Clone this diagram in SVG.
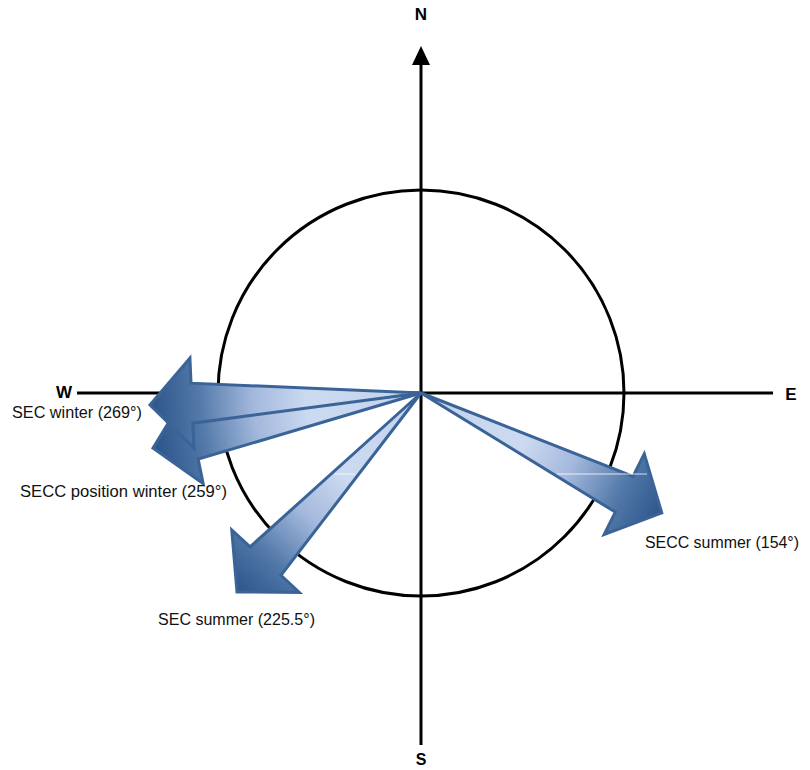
<svg xmlns="http://www.w3.org/2000/svg" width="810" height="770" viewBox="0 0 810 770">
<style>
.ax{stroke:#000;stroke-width:3;fill:none}
.arrow{stroke:#3a6498;stroke-width:3;stroke-linejoin:miter;fill:url(#g)}
.lbl{font-family:"Liberation Sans",Arial,sans-serif;font-size:16px;fill:#111}
.dir{font-family:"Liberation Sans",Arial,sans-serif;font-size:17px;font-weight:bold;fill:#000;text-anchor:middle}
.art{stroke:#ffffff;stroke-width:1;opacity:0.8}
</style>
<defs>
<linearGradient id="g" gradientUnits="userSpaceOnUse" x1="0" y1="0" x2="271" y2="0">
<stop offset="0" stop-color="#c3d3ec"/>
<stop offset="0.42" stop-color="#ccdaf1"/>
<stop offset="0.62" stop-color="#a3b8dc"/>
<stop offset="0.82" stop-color="#5279a9"/>
<stop offset="1" stop-color="#2c548a"/>
</linearGradient>
</defs>
<rect width="810" height="770" fill="#fff"/>
<g id="compass">
<circle class="ax" cx="421" cy="393" r="203"/>
<line class="ax" x1="421" y1="62" x2="421" y2="745"/>
<polygon points="421,46 412,65 430,65" fill="#000"/>
<line class="ax" x1="77" y1="393" x2="773" y2="393"/>
</g>
<g id="connectors">
<path id="secc-winter" class="arrow" transform="translate(421,393) rotate(168.4)" d="M0,0 L231.6,-20 L231.6,-45 L273.6,0 L231.6,45 L231.6,20 Z"/>
<path id="sec-winter" class="arrow" transform="translate(421,393) rotate(177.46)" d="M0,0 L229.3,-20 L229.3,-45 L271.3,0 L229.3,45 L229.3,20 Z"/>
<path id="sec-summer" class="arrow" transform="translate(421,393) rotate(132.76)" d="M0,0 L229,-21 L229,-46 L271,0 L229,46 L229,21 Z"/>
<path id="secc-summer" class="arrow" transform="translate(421,393) rotate(26.47)" d="M0,0 L227,-20 L227,-45 L269,0 L227,45 L227,20 Z"/>
<line class="art" x1="557" y1="474" x2="647" y2="474"/>
<line class="art" x1="335" y1="474" x2="355" y2="474"/>
</g>
<g id="directions">
<text class="dir" x="421" y="20">N</text>
<text class="dir" x="64" y="398">W</text>
<text class="dir" x="791" y="400">E</text>
<text class="dir" x="421" y="765" style="font-size:16px">S</text>
</g>
<g id="labels">
<text class="lbl" x="12" y="418" textLength="130" lengthAdjust="spacingAndGlyphs">SEC winter (269°)</text>
<text class="lbl" x="20" y="497" textLength="207" lengthAdjust="spacingAndGlyphs">SECC position winter (259°)</text>
<text class="lbl" x="158" y="625" textLength="157" lengthAdjust="spacingAndGlyphs">SEC summer (225.5°)</text>
<text class="lbl" x="645" y="548" textLength="154" lengthAdjust="spacingAndGlyphs">SECC summer (154°)</text>
</g>
</svg>
